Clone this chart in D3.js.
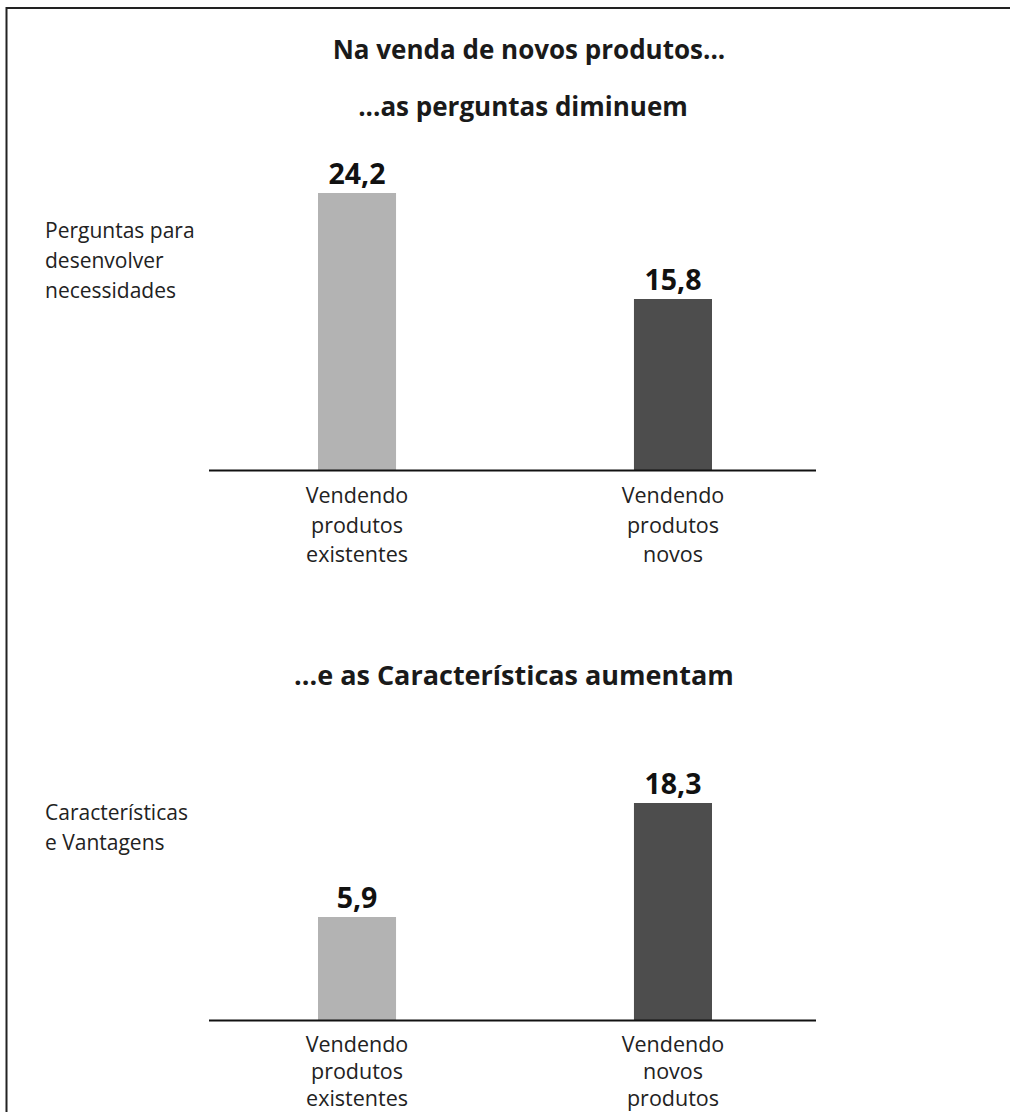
<!DOCTYPE html>
<html><head><meta charset="utf-8">
<script src="https://cdn.jsdelivr.net/npm/d3@7"></script>
<style>body{margin:0;background:#fff}svg{display:block}</style>
</head><body>
<script>
const titles = ["Na venda de novos produtos...", "...as perguntas diminuem", "...e as Características aumentam"];
const seriesKeys = ["existentes", "novos"];
const questionsValues = [24.2, 15.8];
const featuresValues = [5.9, 18.3];
const questionsCategories = [["Vendendo","produtos","existentes"],["Vendendo","produtos","novos"]];
const featuresCategories = [["Vendendo","produtos","existentes"],["Vendendo","novos","produtos"]];
const questionsLabel = ["Perguntas para","desenvolver","necessidades"];
const featuresLabel = ["Características","e Vantagens"];
const valueFormat = v => v.toFixed(1).replace(".", ",");

const W = 1010, H = 1112;
const svg = d3.select("body").append("svg").attr("width", W).attr("height", H);
const FONT = "'Open Sans', 'Noto Sans', sans-serif";

// frame
svg.append("path").attr("d", "M6.5,1112 V8 H1010").attr("fill","none").attr("stroke","#222").attr("stroke-width",2);

const colors = d3.scaleOrdinal().domain(seriesKeys).range(["#b3b3b3", "#4d4d4d"]);
const x = d3.scaleBand().domain(seriesKeys).range([318, 712]).paddingInner(0.753).paddingOuter(0);

const titleStyle = t => t.attr("text-anchor","middle").attr("font-family", FONT)
  .attr("font-weight",700).attr("font-size",26).attr("fill","#1a1a1a");
svg.append("text").attr("x", 529).attr("y", 59).call(titleStyle).text(titles[0]);
svg.append("text").attr("x", 523).attr("y", 116).call(titleStyle).text(titles[1]);
svg.append("text").attr("x", 514).attr("y", 685).call(titleStyle).attr("font-size",27).text(titles[2]);

function panel(values, cats, sideLabel, baseY, yDomain, yTop, sideY, labelGap, lineStep) {
  const y = d3.scaleLinear().domain(yDomain).range([baseY, yTop]);
  const g = svg.append("g");
  g.selectAll("rect").data(values).join("rect")
    .attr("x", (d,i) => x(seriesKeys[i]))
    .attr("width", x.bandwidth())
    .attr("y", d => y(d))
    .attr("height", d => baseY - y(d))
    .attr("fill", (d,i) => colors(seriesKeys[i]));
  g.selectAll("text.val").data(values).join("text").attr("class","val")
    .attr("x", (d,i) => x(seriesKeys[i]) + x.bandwidth()/2)
    .attr("y", d => y(d) - 9)
    .attr("text-anchor","middle").attr("font-family",FONT).attr("font-weight",700)
    .attr("font-size",28.5).attr("fill","#111").text(valueFormat);
  // axis
  const axis = d3.axisBottom(x).tickSize(0).tickFormat("");
  const ag = g.append("g").attr("transform", `translate(0,${baseY})`).call(axis);
  ag.select(".domain").attr("stroke","#111").attr("stroke-width",2.2)
    .attr("d", `M209,0.5H816`);
  // category labels
  cats.forEach((lines, i) => {
    const t = g.append("text").attr("text-anchor","middle").attr("font-family",FONT)
      .attr("font-size",21.5).attr("fill","#222");
    lines.forEach((ln, j) => t.append("tspan")
      .attr("x", x(seriesKeys[i]) + x.bandwidth()/2).attr("y", baseY + labelGap + j*lineStep).text(ln));
  });
  const st = g.append("text").attr("font-family",FONT).attr("font-size",21).attr("fill","#222");
  sideLabel.forEach((ln, j) => st.append("tspan").attr("x", 45).attr("y", sideY + j*30).text(ln));
}

panel(questionsValues, questionsCategories, questionsLabel, 470, [2.25, 24.2], 193, 238, 33, 29.5);
panel(featuresValues, featuresCategories, featuresLabel, 1020, [-5.3, 18.3], 803, 820, 32, 27);
</script>
</body></html>
